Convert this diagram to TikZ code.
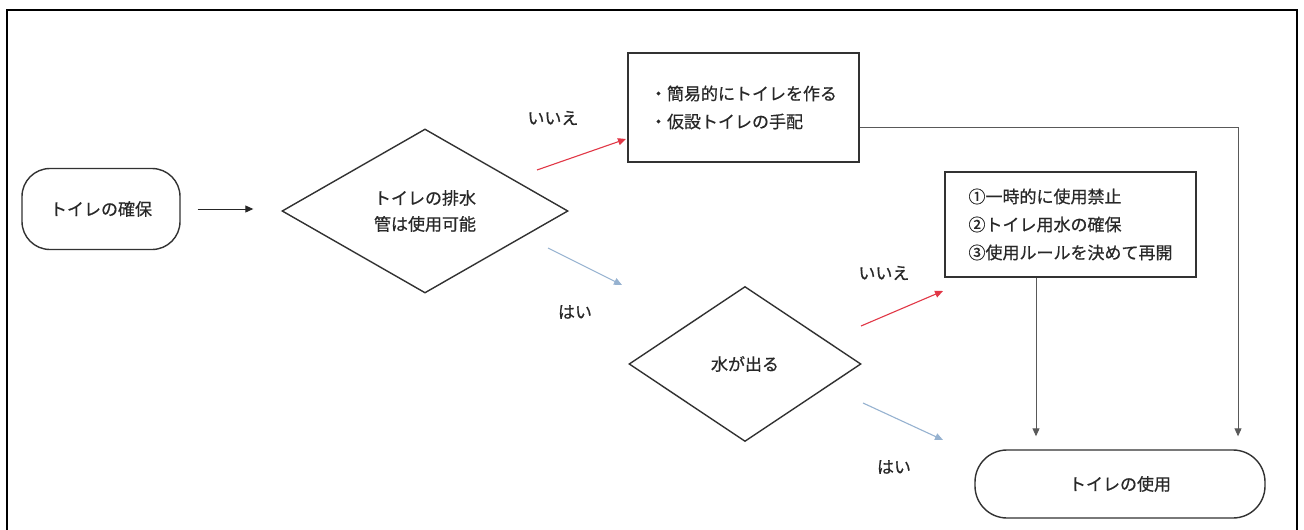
\documentclass[tikz,border=0pt]{standalone}
\usepackage{fontspec}
\setmainfont{Noto Sans CJK JP}[FakeBold=0.6]
\usetikzlibrary{shapes.geometric,arrows.meta}
\definecolor{txt}{RGB}{40,40,40}
\definecolor{edge}{RGB}{50,50,50}
\definecolor{redarr}{RGB}{225,55,70}
\definecolor{bluearr}{RGB}{150,178,208}
\begin{document}
\begin{tikzpicture}[x=1pt,y=-1pt,
  every node/.style={font=\fontsize{17}{28}\selectfont, text=txt},
  terminal/.style={draw=edge, line width=1.4pt, rectangle, rounded corners=28pt, inner sep=0pt},
  decision/.style={draw=edge, line width=1.4pt, diamond, inner sep=0pt, align=center, font=\fontsize{17}{26}\selectfont},
  actbox/.style={draw=edge, line width=1.6pt, rectangle, inner sep=0pt, align=left},
  lbl/.style={inner sep=0pt},
  conn/.style={draw=black!85, line width=1pt, -{Triangle[length=8pt,width=7pt]}},
  noarr/.style={draw=redarr, line width=1.1pt, -{Triangle[length=8pt,width=7pt]}},
  yesarr/.style={draw=bluearr, line width=1.1pt, -{Triangle[length=8pt,width=7pt]}},
  link/.style={draw=black!65, line width=0.9pt, -{Triangle[length=8pt,width=7pt]}}
]
\useasboundingbox (0,0) rectangle (1304,530);
\fill[white] (0,0) rectangle (1304,530);
% outer frame
\draw[line width=2.2pt, black] (7,540) -- (7,10) -- (1297,10) -- (1297,540);

% nodes
\node[terminal, minimum width=158pt, minimum height=81pt] (start) at (101,209) {トイレの確保};
\node[decision, minimum width=286pt, minimum height=164pt, aspect=1.744] (d1) at (425,211) {トイレの排水\\管は使用可能};
\node[actbox, minimum width=231pt, minimum height=109pt] (box1) at (743.5,107.5) {・簡易的にトイレを作る\\・仮設トイレの手配};
\node[actbox, minimum width=251pt, minimum height=105pt] (box2) at (1070.5,224.5) {①一時的に使用禁止\\②トイレ用水の確保\\③使用ルールを決めて再開};
\node[decision, minimum width=232pt, minimum height=155pt, aspect=1.497] (d2) at (745,364) {水が出る};
\node[terminal, rounded corners=32pt, minimum width=290pt, minimum height=68pt] (end) at (1120,484) {トイレの使用};

% labels
\node[lbl] (no1) at (553,118) {いいえ};
\node[lbl] (yes1) at (575,312) {はい};
\node[lbl] (no2) at (884,273) {いいえ};
\node[lbl] (yes2) at (894,467) {はい};

% free arrow ends
\coordinate (r1s) at (537,170);
\coordinate (r1e) at (626,139);
\coordinate (b1s) at (548,248);
\coordinate (b1e) at (622,285);
\coordinate (r2s) at (861,326);
\coordinate (r2e) at (943,291);
\coordinate (b2s) at (863,403);
\coordinate (b2e) at (943,440);

% connectors
\draw[conn, shorten <=17pt, shorten >=28pt] (start.east) -- (start.east -| d1.west);
\draw[noarr] (r1s) -- (r1e);
\draw[yesarr] (b1s) -- (b1e);
\draw[noarr] (r2s) -- (r2e);
\draw[yesarr] (b2s) -- (b2e);
\draw[link] ([yshift=-19.5pt]box1.east) -| ([xshift=118pt,yshift=13pt]end.north);
\draw[link] ([xshift=-34.5pt]box2.south) -- ([xshift=-84pt,yshift=13pt]end.north);
\end{tikzpicture}
\end{document}
